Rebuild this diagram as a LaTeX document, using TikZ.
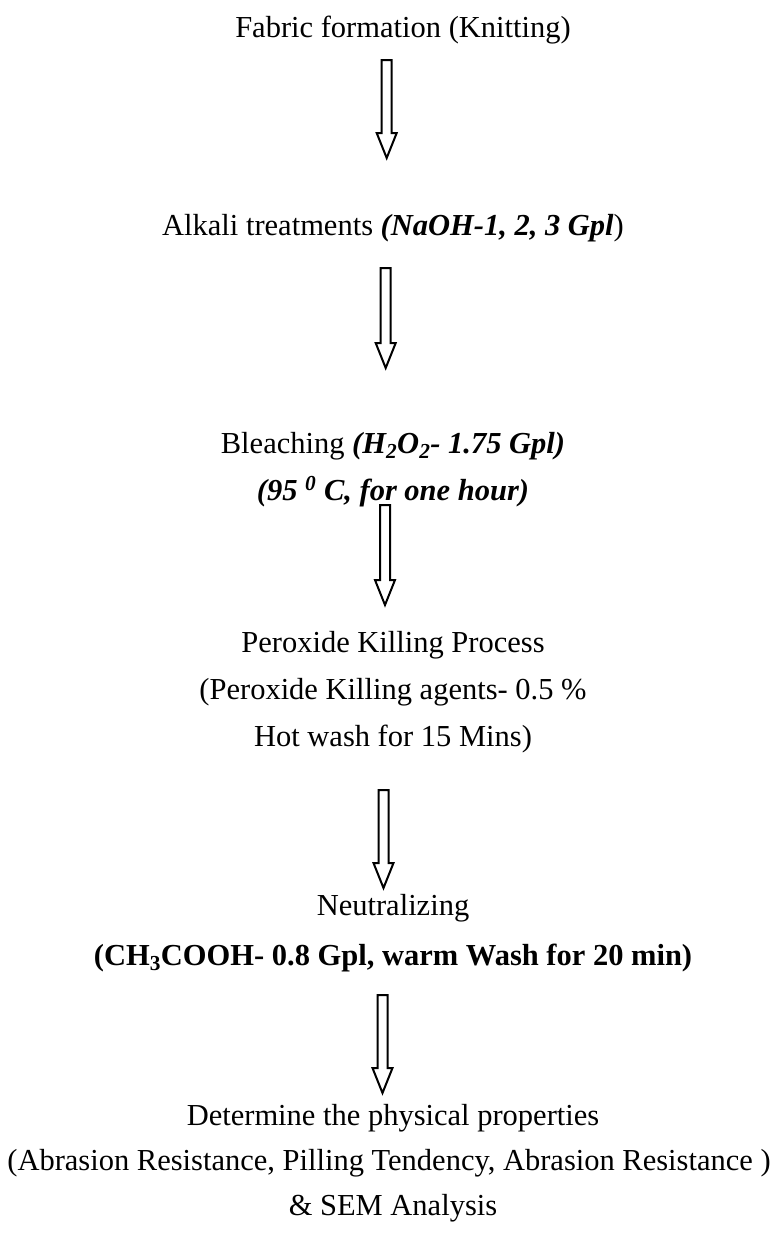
\documentclass[tikz,border=0pt]{standalone}
\usepackage{fontspec}
\setmainfont{Liberation Serif}
\usetikzlibrary{calc}

\tikzset{
  steptext/.style={anchor=base, inner sep=0pt, font=\fontsize{30.5}{36}\selectfont},
  arrowline/.style={line width=2pt, line join=miter}
}

% hollow block arrow from #1 (top) down to #2 (tip)
\newcommand{\hollowarrow}[2]{%
  \draw[arrowline] ($(#1)+(-5,0)$) -- ($(#1)+(5,0)$) -- ($(#2)+(5,-25)$)
    -- ($(#2)+(10,-25)$) -- (#2) -- ($(#2)+(-10,-25)$) -- ($(#2)+(-5,-25)$) -- cycle;
}

\begin{document}
\begin{tikzpicture}[x=1pt,y=-1pt]
\useasboundingbox (0,0) rectangle (778,1234);

% process steps
\node[steptext] (fabric) at (403,37) {Fabric formation (Knitting)};
\node[steptext] (alkali) at (393,235) {Alkali treatments \textbf{\textit{(NaOH-1, 2, 3 Gpl}})};
\node[steptext] (bleach) at (393,453) {Bleaching \textbf{\textit{(H\textsubscript{2}O\textsubscript{2}- 1.75 Gpl)}}};
\node[steptext] (bleachtemp) at (393,500) {\textbf{\textit{(95 \textsuperscript{0} C, for one hour)}}};
\node[steptext] (killing) at (393,652) {Peroxide Killing Process};
\node[steptext] (killagent) at (393,699) {(Peroxide Killing agents- 0.5 \%};
\node[steptext] (hotwash) at (393,746) {Hot wash for 15 Mins)};
\node[steptext] (neutral) at (393,915) {Neutralizing};
\node[steptext] (acid) at (393,965) {\textbf{(CH\textsubscript{3}COOH- 0.8 Gpl, warm Wash for 20 min)}};
\node[steptext] (determine) at (393,1125) {Determine the physical properties};
\node[steptext] (tests) at (389,1170) {(Abrasion Resistance, Pilling Tendency, Abrasion Resistance )};
\node[steptext] (sem) at (393,1215) {\& SEM Analysis};

% arrow ends
\coordinate (a1top) at (386.7,60);   \coordinate (a1tip) at (386.7,158);
\coordinate (a2top) at (385.7,268);  \coordinate (a2tip) at (385.7,368);
\coordinate (a3top) at (385,505);    \coordinate (a3tip) at (385,605);
\coordinate (a4top) at (383.5,790);  \coordinate (a4tip) at (383.5,888);
\coordinate (a5top) at (382.5,995);  \coordinate (a5tip) at (382.5,1093);

% arrows
\foreach \i in {1,...,5}{
  \hollowarrow{a\i top}{a\i tip}
}

\end{tikzpicture}
\end{document}
